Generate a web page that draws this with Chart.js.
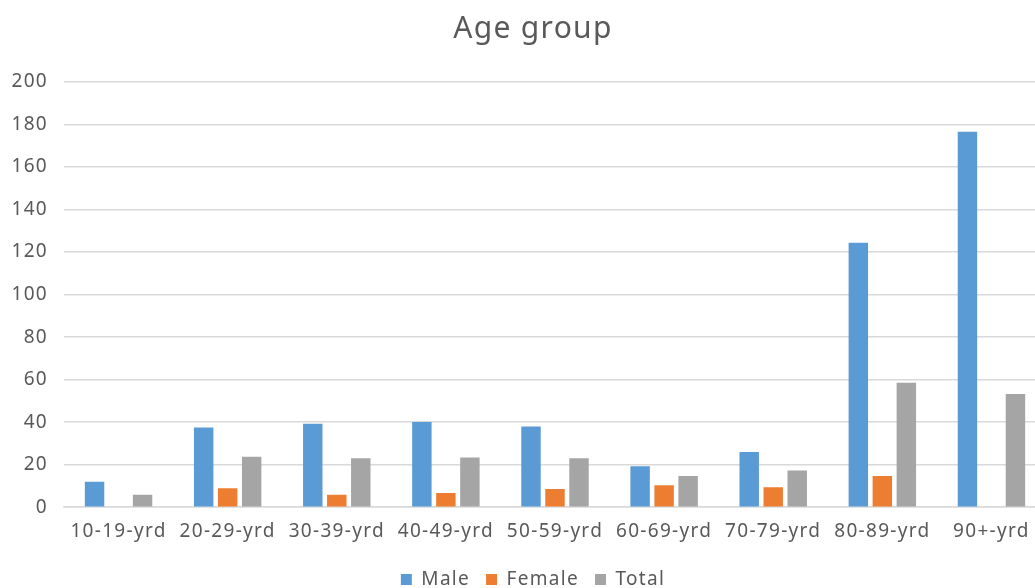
<!DOCTYPE html>
<html>
<head>
<meta charset="utf-8">
<script src="https://cdn.jsdelivr.net/npm/chart.js@4/dist/chart.umd.min.js"></script>
<style>
  html, body { margin: 0; padding: 0; background: #fff; overflow: hidden; }
  #wrap { width: 1035px; height: 588px; overflow: hidden; position: relative; }
  #box { width: 1066px; height: 588px; position: absolute; left: 0; top: 0; }
</style>
</head>
<body>
<div id="wrap"><div id="box"><canvas id="ageChart"></canvas></div></div>
<script>
// Age groups and counts
const categories = ['10-19-yrd', '20-29-yrd', '30-39-yrd', '40-49-yrd', '50-59-yrd', '60-69-yrd', '70-79-yrd', '80-89-yrd', '90+-yrd'];
const maleValues = [12, 37.5, 39.3, 40.1, 37.9, 19.3, 26, 124.4, 176.6];
const femaleValues = [0, 8.9, 5.8, 6.7, 8.6, 10.3, 9.4, 14.7, 0];
const totalValues = [5.8, 23.7, 23, 23.4, 23, 14.7, 17.3, 58.5, 53.2];
const yTicks = [0, 20, 40, 60, 80, 100, 120, 140, 160, 180, 200];

const textColor = '#595959';
const gridColor = '#d9d9d9';
const fontFamily = '"Noto Sans", "DejaVu Sans", sans-serif';

// the original font is a bit wider, so space the letters out a little
const spacingPlugin = {
    id: 'spacing',
    beforeLayout: chart => { chart.ctx.letterSpacing = '1.3px'; },
    beforeDraw: chart => { chart.ctx.letterSpacing = '1.3px'; }
};

const ctx = document.getElementById('ageChart').getContext('2d');
const chart = new Chart(ctx, {
    type: 'bar',
    data: {
        labels: categories,
        datasets: [
            { label: 'Male', data: maleValues, backgroundColor: '#5B9BD5' },
            { label: 'Female', data: femaleValues, backgroundColor: '#ED7D31' },
            { label: 'Total', data: totalValues, backgroundColor: '#A5A5A5' }
        ]
    },
    plugins: [spacingPlugin],
    options: {
        responsive: true,
        maintainAspectRatio: false,
        animation: false,
        datasets: {
            bar: { categoryPercentage: 0.66, barPercentage: 0.81 }
        },
        layout: { padding: { left: 0, right: 0, top: 0, bottom: -11 } },
        scales: {
            x: {
                grid: { display: false },
                border: { display: true, color: gridColor, width: 1.5 },
                afterFit: scale => { scale.height += 6; },
                ticks: { color: textColor, font: { family: fontFamily, size: 19 }, padding: 5, maxRotation: 0, autoSkip: false }
            },
            y: {
                min: 0,
                max: 200,
                afterBuildTicks: scale => { scale.ticks = yTicks.map(v => ({ value: v })); },
                afterFit: scale => { scale.width = 64; },
                grid: { color: gridColor, lineWidth: 1.5, drawTicks: false },
                border: { display: false },
                ticks: { color: textColor, font: { family: fontFamily, size: 19 }, padding: 16 }
            },
            // empty right margin so the title and legend stay centred on the whole chart
            yRight: {
                position: 'right',
                display: true,
                afterFit: scale => { scale.width = 20; },
                grid: { display: false, drawTicks: false },
                border: { display: false },
                ticks: { display: false }
            }
        },
        plugins: {
            title: {
                display: true,
                text: 'Age group',
                color: textColor,
                font: { family: fontFamily, size: 30, weight: 'normal' },
                padding: { top: 11, bottom: 35 }
            },
            legend: {
                display: true,
                position: 'bottom',
                labels: { color: textColor, font: { family: fontFamily, size: 19 }, boxWidth: 11, boxHeight: 11, padding: 16 }
            },
            tooltip: { enabled: false }
        }
    }
});
</script>
</body>
</html>
